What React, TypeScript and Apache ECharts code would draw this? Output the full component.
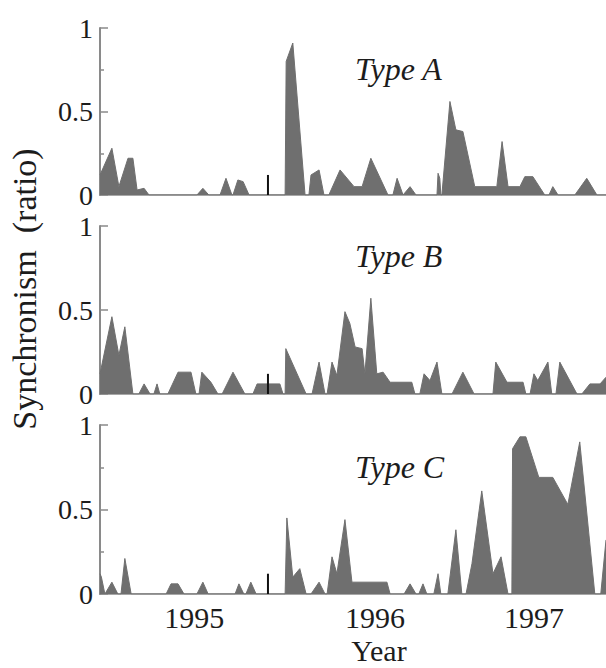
import React, { useEffect, useRef } from 'react';
import * as echarts from 'echarts';

// x unit: sampling week index from the start of the record
const yearLabels = ['1995', '1996', '1997'];
const yearPositions = [26.9, 78.6, 124];
const weekMax = 144.6;
const gapWeek = 48;
const gapMarkerValues = [0.12, 0.12, 0.12];
const panelNames = ['Type A', 'Type B', 'Type C'];

const typeA: [number, number][] = [
  [0, 0.12], [3.4, 0.28], [5.4, 0.05], [8, 0.22], [9.4, 0.22], [10.6, 0.03], [12.6, 0.04], [14, 0],
  [27.7, 0], [29.4, 0.04], [31.1, 0],
  [34.3, 0], [36, 0.1], [37.7, 0], [38, 0], [39.4, 0.09], [40.9, 0.08], [42.6, 0],
  [52.9, 0], [53.2, 0.8], [55.1, 0.91], [58.6, 0],
  [59.7, 0], [60.3, 0.12], [62.6, 0.15], [64, 0],
  [65.4, 0], [68.6, 0.15], [72.6, 0.05], [74.9, 0.05], [77.4, 0.22], [82.3, 0],
  [83.7, 0], [84.9, 0.1], [86.6, 0], [88.6, 0.05], [90.3, 0],
  [96.3, 0], [96.6, 0.13], [97.1, 0.1], [97.4, 0],
  [97.7, 0], [100, 0.56], [101.7, 0.39], [103.7, 0.38], [107.1, 0.05], [113.4, 0.05], [114.9, 0.32],
  [116.6, 0.05], [120, 0.05], [121.4, 0.11], [123.7, 0.11], [127.1, 0],
  [128.3, 0], [129.4, 0.05], [130.9, 0],
  [135.7, 0], [139.1, 0.1], [142, 0], [144.6, 0],
];

const typeB: [number, number][] = [
  [0, 0.12], [3.4, 0.46], [5.4, 0.23], [7.1, 0.4], [9.4, 0],
  [11.1, 0], [12.6, 0.06], [14.3, 0], [15.4, 0], [16.3, 0.06], [17.1, 0],
  [19.4, 0], [22.3, 0.13], [26, 0.13], [27.4, 0],
  [28.3, 0], [29.1, 0.13], [31.7, 0.07], [33.7, 0],
  [34.9, 0], [38, 0.13], [41.4, 0],
  [43.7, 0], [44.9, 0.06], [51.4, 0.06], [52.3, 0],
  [52.9, 0], [53.1, 0.27], [58.9, 0],
  [60.6, 0], [62.6, 0.19], [64.3, 0],
  [64.9, 0], [66.3, 0.19], [67.7, 0.11], [70, 0.49], [71.4, 0.42], [72.9, 0.28], [74.9, 0.27],
  [75.7, 0.12], [77.4, 0.57], [79.1, 0.12], [80.9, 0.13], [82.9, 0.07], [89.1, 0.07], [90, 0],
  [91.4, 0], [92.6, 0.12], [94.3, 0.08], [96.3, 0.19], [97.7, 0],
  [100.6, 0], [103.7, 0.13], [106.9, 0],
  [112.3, 0], [113.1, 0.19], [116.3, 0.07], [120.9, 0.07], [121.7, 0],
  [122.9, 0], [124, 0.12], [125.1, 0.08], [128, 0.19], [129.1, 0],
  [130.3, 0], [131.4, 0.19], [136.3, 0],
  [137.7, 0], [140, 0.06], [142.9, 0.06], [144.6, 0.1],
];

const typeC: [number, number][] = [
  [0, 0.12], [0.4, 0.1], [1.4, 0], [3.4, 0.07], [5.1, 0],
  [6, 0], [7.1, 0.21], [8.9, 0],
  [18.9, 0], [20.3, 0.06], [22.3, 0.06], [24, 0],
  [27.7, 0], [29.4, 0.07], [30.9, 0],
  [38.6, 0], [39.7, 0.06], [41.1, 0], [41.7, 0], [43.1, 0.07], [44.6, 0],
  [52.9, 0], [53.4, 0.45], [55.1, 0.1], [57.1, 0.15], [58.9, 0],
  [60.3, 0], [62.6, 0.07], [64.3, 0],
  [64.9, 0], [66.3, 0.22], [67.7, 0.12], [70, 0.44], [72, 0.07], [82, 0.07], [82.9, 0],
  [86.9, 0], [88.6, 0.06], [90.3, 0],
  [91.1, 0], [92.3, 0.06], [93.4, 0],
  [95.4, 0], [96.6, 0.12], [97.4, 0],
  [99.4, 0], [101.7, 0.38], [103.4, 0],
  [104.6, 0], [106.3, 0.18], [109.1, 0.61], [112.3, 0.12], [114.6, 0.22], [116.6, 0],
  [117.7, 0], [117.9, 0.86], [120, 0.93], [121.7, 0.93], [125.4, 0.69], [129.4, 0.69],
  [133.7, 0.53], [137.1, 0.9], [141.4, 0],
  [143.1, 0], [144.6, 0.32],
];

const panels = [typeA, typeB, typeC];

const SERIF = '"Liberation Serif", "Times New Roman", serif';
const FILL = '#6f6f6f';
const AXIS = '#8a8a8a';
const TEXT = '#1c1c1c';

export default function App() {
  const ref = useRef<HTMLDivElement>(null);

  useEffect(() => {
    if (!ref.current) return;
    const chart = echarts.init(ref.current, undefined, { renderer: 'svg' });

    const grids = [
      { left: 100, right: 0, top: 28, height: 167 },
      { left: 100, right: 0, top: 226, height: 168 },
      { left: 100, right: 0, top: 425, height: 169 },
    ];
    const typeLabelY = [69, 256, 467];

    const option: any = {
      animation: false,
      backgroundColor: '#ffffff',
      grid: grids,
      xAxis: panels.map((_, i) => ({
        type: 'value',
        gridIndex: i,
        min: 0,
        max: weekMax,
        splitLine: { show: false },
        axisTick: { show: false },
        axisLine: { show: true, lineStyle: { color: AXIS, width: 1.5 } },
        axisLabel:
          i === 2
            ? {
                show: true,
                customValues: yearPositions,
                formatter: (v: number) => {
                  let best = 0;
                  yearPositions.forEach((p, k) => {
                    if (Math.abs(p - v) < Math.abs(yearPositions[best] - v)) best = k;
                  });
                  return yearLabels[best];
                },
                fontFamily: SERIF,
                fontSize: 30,
                color: TEXT,
                margin: 8,
              }
            : { show: false },
      })),
      yAxis: panels.map((_, i) => ({
        type: 'value',
        gridIndex: i,
        min: 0,
        max: 1,
        interval: 0.5,
        splitLine: { show: false },
        axisLine: { show: true, lineStyle: { color: AXIS, width: 2 } },
        axisTick: { show: true, inside: true, length: 8, lineStyle: { color: AXIS, width: 1.5 } },
        minorTick: { show: i !== 1, splitNumber: 2, length: 4, lineStyle: { color: AXIS, width: 1.5 } },
        minorSplitLine: { show: false },
        axisLabel: { fontFamily: SERIF, fontSize: 28, color: TEXT, margin: 7 },
      })),
      series: [
        ...panels.map((d, i) => ({
          type: 'line',
          name: panelNames[i],
          xAxisIndex: i,
          yAxisIndex: i,
          data: d,
          symbol: 'none',
          lineStyle: { color: FILL, width: 1 },
          areaStyle: { color: FILL, opacity: 1 },
          z: 2,
        })),
        ...gapMarkerValues.map((v, i) => ({
          type: 'bar',
          xAxisIndex: i,
          yAxisIndex: i,
          data: [[gapWeek, v]],
          barWidth: 2,
          itemStyle: { color: '#111111' },
          z: 3,
        })),
      ],
      graphic: [
        ...panelNames.map((t, i) => ({
          type: 'text',
          x: 355,
          y: typeLabelY[i],
          style: {
            text: t,
            fontFamily: SERIF,
            fontStyle: 'italic',
            fontSize: 32,
            fill: TEXT,
            verticalAlign: 'middle',
            align: 'left',
          },
        })),
        {
          type: 'text',
          x: 379,
          y: 650,
          style: {
            text: 'Year',
            fontFamily: SERIF,
            fontSize: 30,
            fill: TEXT,
            align: 'center',
            verticalAlign: 'middle',
          },
        },
        {
          type: 'text',
          x: 24,
          y: 289,
          rotation: Math.PI / 2,
          style: {
            text: 'Synchronism  (ratio)',
            fontFamily: SERIF,
            fontSize: 34,
            fill: TEXT,
            align: 'center',
            verticalAlign: 'middle',
          },
        },
      ],
    };

    chart.setOption(option);
    return () => chart.dispose();
  }, []);

  return (
    <div
      ref={ref}
      style={{ position: 'absolute', left: 0, top: 0, width: 606, height: 668 }}
    />
  );
}
